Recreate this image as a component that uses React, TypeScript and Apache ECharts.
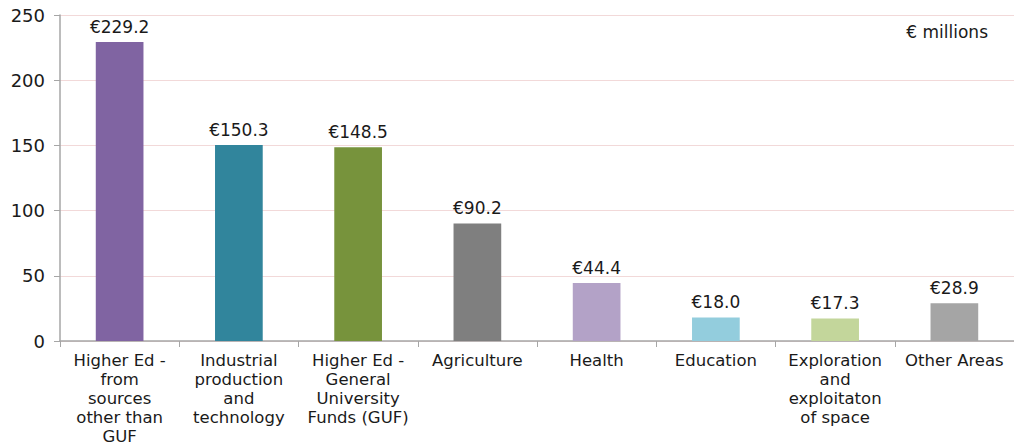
import React, { useEffect, useRef } from "react";
import * as echarts from "echarts";

const categories = [
  "Higher Ed -\nfrom\nsources\nother than\nGUF",
  "Industrial\nproduction\nand\ntechnology",
  "Higher Ed -\nGeneral\nUniversity\nFunds (GUF)",
  "Agriculture",
  "Health",
  "Education",
  "Exploration\nand\nexploitaton\nof space",
  "Other Areas",
];
const values = [229.2, 150.3, 148.5, 90.2, 44.4, 18.0, 17.3, 28.9];
const colors = ["#8064A2", "#31859C", "#77933C", "#7F7F7F", "#B3A2C7", "#93CDDD", "#C3D69B", "#A5A5A5"];
const FONT = "DejaVu Sans";

export default function App() {
  const ref = useRef<HTMLDivElement>(null);
  useEffect(() => {
    if (!ref.current) return;
    const chart = echarts.init(ref.current, null, { renderer: "svg" });
    chart.setOption({
      animation: false,
      textStyle: { fontFamily: FONT },
      grid: { left: 60, right: -1, top: 15, bottom: 103, containLabel: false },
      xAxis: {
        type: "category",
        data: categories,
        axisLine: { lineStyle: { color: "#A6A6A6", width: 1.5 } },
        axisTick: { show: true, length: 6, lineStyle: { color: "#A6A6A6" } },
        axisLabel: { interval: 0, color: "#1a1a1a", fontSize: 16.5, lineHeight: 19, margin: 10, fontFamily: FONT },
      },
      yAxis: {
        type: "value",
        min: 0,
        max: 250,
        interval: 50,
        axisLine: { show: true, lineStyle: { color: "#A6A6A6", width: 1.5 } },
        axisTick: { show: true, length: 6, lineStyle: { color: "#A6A6A6" } },
        splitLine: { lineStyle: { color: "#F2D9D9" } },
        axisLabel: { color: "#1a1a1a", fontSize: 18, margin: 15, fontFamily: FONT },
      },
      series: [
        {
          type: "bar",
          barWidth: "40%",
          data: values.map((v, i) => ({ value: v, itemStyle: { color: colors[i] } })),
          label: {
            show: true,
            position: "top",
            distance: 7,
            color: "#1a1a1a",
            fontSize: 17,
            fontFamily: FONT,
            formatter: (p: any) => "€" + p.value.toFixed(1),
          },
        },
      ],
      graphic: [
        {
          type: "text",
          right: 26,
          top: 23,
          style: { text: "€ millions", fontSize: 17, fill: "#1a1a1a", fontFamily: FONT },
        },
      ],
    });
    return () => chart.dispose();
  }, []);
  return <div ref={ref} style={{ width: 1014, height: 446, position: "absolute", left: 0, top: 0 }} />;
}
